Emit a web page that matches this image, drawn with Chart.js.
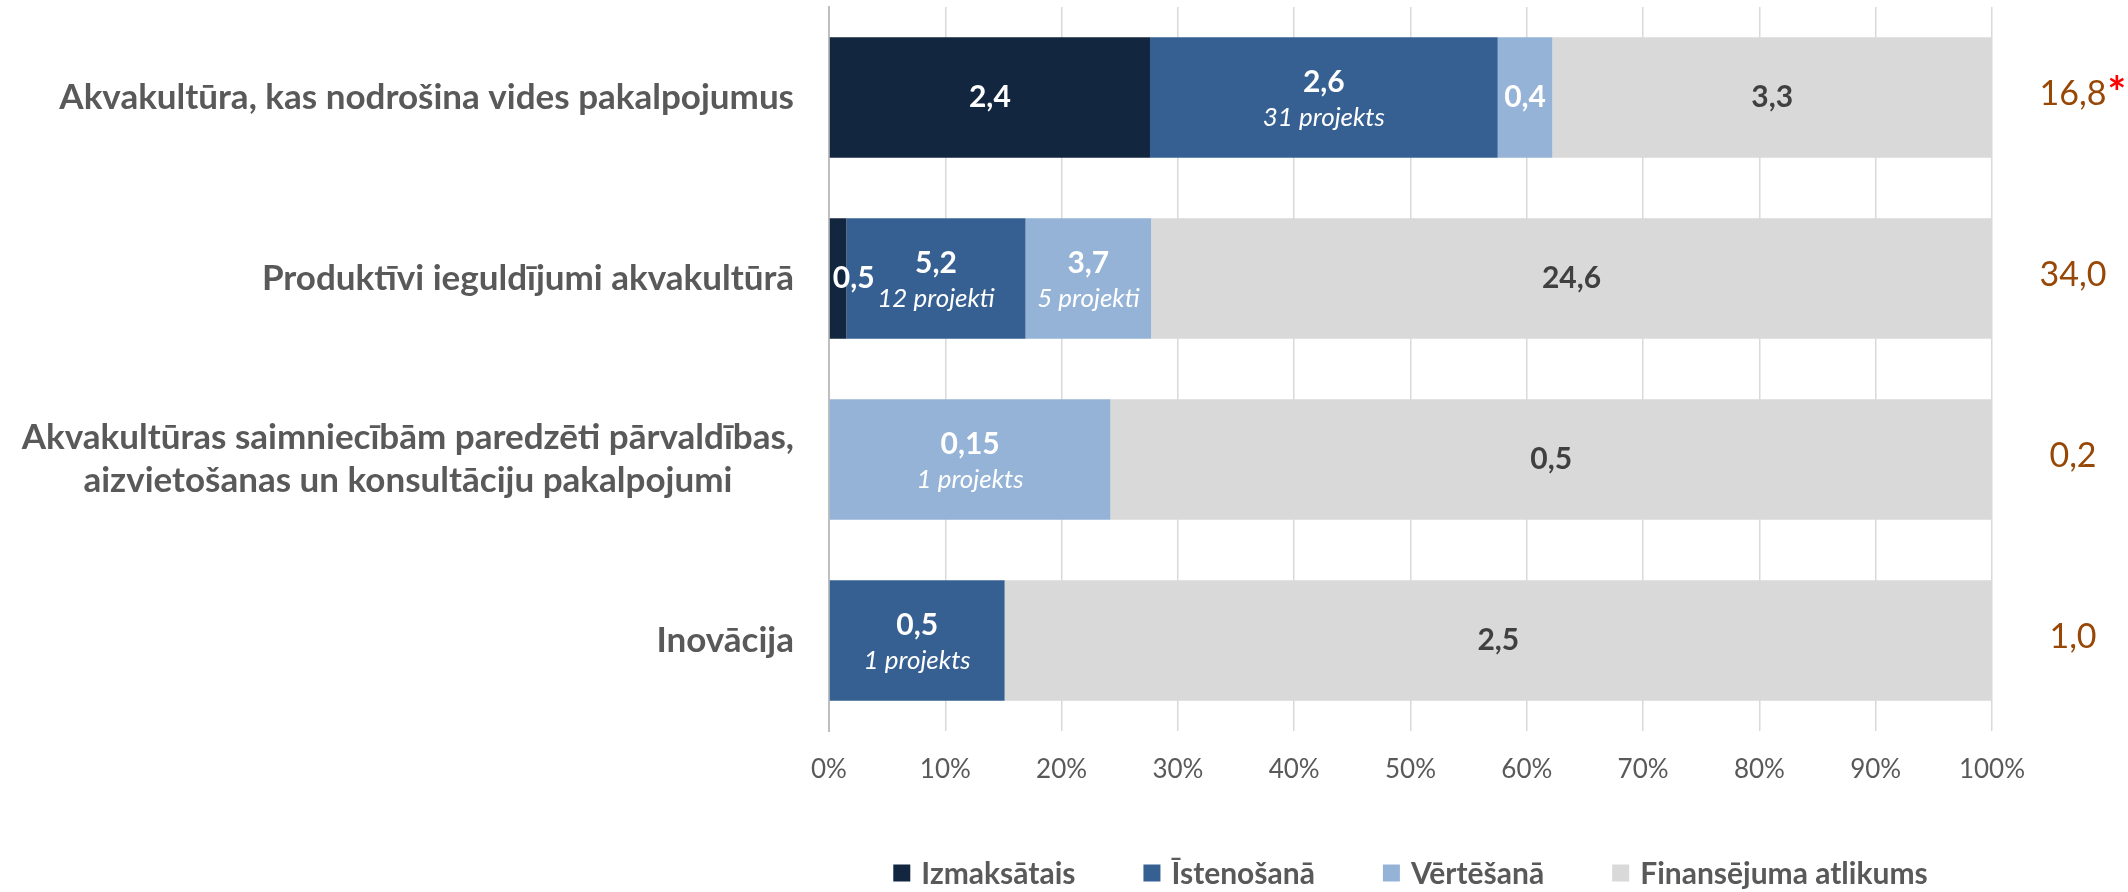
<!DOCTYPE html>
<html>
<head>
<meta charset="utf-8">
<script src="https://cdn.jsdelivr.net/npm/chart.js@4.4.7/dist/chart.umd.min.js"></script>
<style>
  body { margin: 0; background: #ffffff; }
  canvas { display: block; }
</style>
</head>
<body>
<canvas id="bar_chart" width="2128" height="892"></canvas>
<script>
// Categories (y axis), top to bottom
var categories = [
    ['Akvakultūra, kas nodrošina vides pakalpojumus'],
    ['Produktīvi ieguldījumi akvakultūrā'],
    ['Akvakultūras saimniecībām paredzēti pārvaldības,', 'aizvietošanas un konsultāciju pakalpojumi'],
    ['Inovācija']
];

var seriesNames = ['Izmaksātais', 'Īstenošanā', 'Vērtēšanā', 'Finansējuma atlikums'];
var seriesColors = ['#132640', '#366092', '#95B3D7', '#D9D9D9'];

// Bar lengths in % of each row
var sharePaid = [27.6, 1.5, null, null];
var shareImpl = [29.9, 15.4, null, 15.1];
var shareEval = [4.7, 10.8, 24.2, null];
var shareRest = [37.8, 72.3, 75.8, 84.9];

// Amounts printed in the bars
var valuePaid = [2.4, 0.5, null, null];
var valueImpl = [2.6, 5.2, null, 0.5];
var valueEval = [0.4, 3.7, 0.15, null];
var valueRest = [3.3, 24.6, 0.5, 2.5];

// Project counts printed under the amounts
var projImpl = ['31 projekts', '12 projekti', '', '1 projekts'];
var projEval = ['', '5 projekti', '1 projekts', ''];

// Totals on the right
var totals = [16.8, 34.0, 0.2, 1.0];
var totalNotes = ['*', '', '', ''];

var FONT = 'Lato';

function fmt(v) {
    return String(v).replace('.', ',');
}

// Draws the amounts and project counts inside the bars
var barLabels = {
    id: 'barLabels',
    afterDatasetsDraw: function(chart) {
        var ctx = chart.ctx;
        var values = [valuePaid, valueImpl, valueEval, valueRest];
        var projects = [null, projImpl, projEval, null];

        ctx.save();
        values.forEach(function(vals, i) {
            var meta = chart.getDatasetMeta(i);
            meta.data.forEach(function(bar, j) {
                if (vals[j] === null) return;
                var left = Math.min(bar.x, bar.base);
                var right = Math.max(bar.x, bar.base);
                var cx = (left + right) / 2;
                var text = fmt(vals[j]);
                var sub = projects[i] ? projects[i][j] : '';

                ctx.fillStyle = (i === 3) ? '#404040' : '#ffffff';
                ctx.font = 'bold 30px ' + FONT;
                ctx.textBaseline = 'middle';
                var w = ctx.measureText(text).width;
                // Narrow bar: start the label at the bar's left edge
                if (w > right - left) {
                    ctx.textAlign = 'left';
                    ctx.fillText(text, left + 3, bar.y + (sub ? -15 : 0));
                } else {
                    ctx.textAlign = 'center';
                    ctx.fillText(text, cx, bar.y + (sub ? -15 : 0));
                }
                if (sub) {
                    ctx.font = 'italic 26px ' + FONT;
                    ctx.textAlign = 'center';
                    ctx.fillText(sub, cx, bar.y + 20);
                }
            });
        });
        ctx.restore();
    }
};

// Category names on the left and totals on the right
var sideLabels = {
    id: 'sideLabels',
    afterDraw: function(chart) {
        var ctx = chart.ctx;
        var yScale = chart.scales.y;
        var area = chart.chartArea;

        ctx.save();
        ctx.textBaseline = 'middle';
        categories.forEach(function(lines, i) {
            var y = yScale.getPixelForTick(i);
            ctx.font = 'bold 35px ' + FONT;
            ctx.fillStyle = '#595959';
            var maxW = 0;
            lines.forEach(function(l) { maxW = Math.max(maxW, ctx.measureText(l).width); });
            var cx = area.left - 35 - maxW / 2;
            var lh = 43;
            var y0 = y - (lines.length - 1) * lh / 2;
            ctx.textAlign = 'center';
            lines.forEach(function(l, k) { ctx.fillText(l, cx, y0 + k * lh); });

            // total
            ctx.font = '34px ' + FONT;
            ctx.fillStyle = '#974706';
            ctx.textAlign = 'center';
            var t = totals[i].toFixed(1).replace('.', ',');
            var tx = area.right + 81;
            ctx.fillText(t, tx, y - 3);
            if (totalNotes[i]) {
                var tw = ctx.measureText(t).width;
                ctx.font = 'bold 44px ' + FONT;
                ctx.fillStyle = '#FF0000';
                ctx.textAlign = 'left';
                ctx.fillText(totalNotes[i], tx + tw / 2 + 1, y - 4);
            }
        });
        ctx.restore();
    }
};

// Legend centred under the plot area
var bottomLegend = {
    id: 'bottomLegend',
    afterDraw: function(chart) {
        var ctx = chart.ctx;
        var area = chart.chartArea;
        var box = 17, gap = 11, spacing = 68;

        ctx.save();
        ctx.font = 'bold 30px ' + FONT;
        ctx.textBaseline = 'middle';
        ctx.textAlign = 'left';
        var widths = seriesNames.map(function(n) { return ctx.measureText(n).width; });
        var total = 0;
        widths.forEach(function(w, i) { total += box + gap + w + (i < widths.length - 1 ? spacing : 0); });
        var x = (area.left + area.right) / 2 - total / 2;
        var y = 873;
        seriesNames.forEach(function(n, i) {
            ctx.fillStyle = seriesColors[i];
            ctx.fillRect(x, y - box / 2, box, box);
            ctx.fillStyle = '#595959';
            ctx.fillText(n, x + box + gap, y + 1);
            x += box + gap + widths[i] + spacing;
        });
        ctx.restore();
    }
};

var shares = [sharePaid, shareImpl, shareEval, shareRest];

var data = {
    labels: categories,
    datasets: seriesNames.map(function(name, i) {
        return {
            label: name,
            data: shares[i],
            backgroundColor: seriesColors[i],
            borderWidth: 0,
            barPercentage: 0.665,
            categoryPercentage: 1.0
        };
    })
};

var options = {
    indexAxis: 'y',
    responsive: false,
    animation: false,
    layout: {
        padding: { top: 7, right: 136, left: 0, bottom: 0 }
    },
    scales: {
        x: {
            stacked: true,
            min: 0,
            max: 100,
            grid: { color: '#D9D9D9', lineWidth: 1.5, drawTicks: false },
            border: { display: false },
            ticks: {
                stepSize: 10,
                padding: 23,
                color: '#595959',
                font: { family: FONT, size: 26 },
                callback: function(value) { return value + '%'; }
            },
            afterFit: function(scale) { scale.height = 161; }
        },
        y: {
            stacked: true,
            grid: { display: false },
            border: { color: '#BFBFBF', width: 2 },
            ticks: { display: false },
            afterFit: function(scale) { scale.width = 829; }
        }
    },
    plugins: {
        legend: { display: false },
        tooltip: { enabled: false }
    }
};

var chart = new Chart(document.getElementById('bar_chart'), {
    type: 'bar',
    data: data,
    options: options,
    plugins: [barLabels, sideLabels, bottomLegend]
});
</script>
</body>
</html>
